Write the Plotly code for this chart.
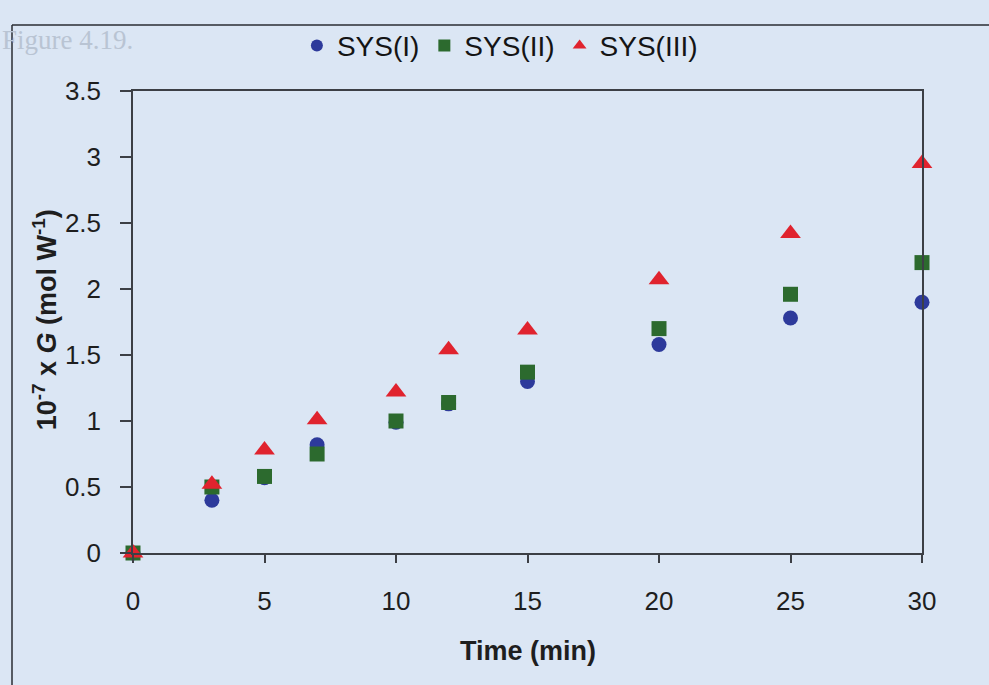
import plotly.graph_objects as go

# Irradiation time (min)
time_min = [0, 3, 5, 7, 10, 12, 15, 20, 25, 30]

# 10^-7 x G (mol W^-1) for each system
sys_i = [0.0, 0.40, 0.57, 0.82, 0.99, 1.13, 1.30, 1.58, 1.78, 1.90]
sys_ii = [0.0, 0.50, 0.58, 0.75, 1.00, 1.14, 1.37, 1.70, 1.96, 2.20]
sys_iii = [0.0, 0.52, 0.78, 1.01, 1.22, 1.54, 1.69, 2.07, 2.42, 2.95]

series_names = ["SYS(I)", "SYS(II)", "SYS(III)"]
x_ticks = [0, 5, 10, 15, 20, 25, 30]
y_ticks = [0, 0.5, 1, 1.5, 2, 2.5, 3, 3.5]

bg = "#dbe6f4"
axis_col = "#3c3f45"
font = "Liberation Sans, Arial, sans-serif"

fig = go.Figure()
fig.add_trace(go.Scatter(x=time_min, y=sys_i, mode="markers", name=series_names[0],
                         cliponaxis=False,
                         marker=dict(symbol="circle", size=15, color="#2d3a9b")))
fig.add_trace(go.Scatter(x=time_min, y=sys_ii, mode="markers", name=series_names[1],
                         cliponaxis=False,
                         marker=dict(symbol="square", size=15, color="#2c6a2e")))
fig.add_trace(go.Scatter(x=time_min, y=sys_iii, mode="markers", name=series_names[2],
                         cliponaxis=False,
                         marker=dict(symbol="triangle-up", size=18, color="#e0232e")))

fig.update_layout(
    width=989, height=685,
    margin=dict(l=133, r=67, t=91, b=132),
    paper_bgcolor=bg, plot_bgcolor=bg,
    font=dict(family=font, size=26, color="#1e1e1e"),
    showlegend=True,
    legend=dict(orientation="h", x=0.465, xanchor="center", y=1.098, yanchor="middle",
                bgcolor="rgba(0,0,0,0)", font=dict(size=28, color="#141414"),
                itemsizing="constant", traceorder="normal", itemwidth=30),
)

fig.update_xaxes(
    range=[0, 30], tickvals=x_ticks, ticktext=[str(v) for v in x_ticks],
    showgrid=False, zeroline=False, showline=True, linecolor=axis_col, linewidth=1.5,
    mirror=True, ticks="outside", ticklen=8, tickwidth=1.5, tickcolor=axis_col,
    ticklabelstandoff=16, tickfont=dict(size=26),
)
fig.update_yaxes(
    range=[0, 3.5], tickvals=y_ticks, ticktext=[f"{v:g}" for v in y_ticks],
    showgrid=False, zeroline=False, showline=True, linecolor=axis_col, linewidth=1.5,
    mirror=True, ticks="outside", ticklen=11, tickwidth=1.5, tickcolor=axis_col,
    ticklabelstandoff=14, tickfont=dict(size=26),
)

# axis titles
fig.add_annotation(xref="paper", yref="paper", x=0.5, y=-0.212, yanchor="middle",
                   text="<b>Time (min)</b>", showarrow=False, font=dict(size=27))
fig.add_annotation(xref="paper", yref="paper", x=-0.112, y=0.505, textangle=-90,
                   xanchor="center", yanchor="middle",
                   text="<b>10<sup>-7</sup> x <i>G</i> (mol W<sup>-1</sup>)</b>",
                   showarrow=False, font=dict(size=27))

# outer chart frame (left and top edges)
fx = (12 - 133) / 789
fy = (553 - 25) / 462
fig.add_shape(type="line", xref="paper", yref="paper", x0=fx, x1=fx, y0=fy, y1=-0.4,
              line=dict(color="#2a2d33", width=1.5))
fig.add_shape(type="line", xref="paper", yref="paper", x0=fx, x1=1.2, y0=fy, y1=fy,
              line=dict(color="#2a2d33", width=1.5))

# page caption behind the chart
fig.add_annotation(xref="paper", yref="paper", x=(0 - 133) / 789, y=(553 - 40) / 462,
                   xanchor="left", yanchor="middle", showarrow=False,
                   text="Figure 4.19.",
                   font=dict(family="Liberation Serif, Times New Roman, serif", size=27, color="#b9c4d3"))

fig.write_html("out.html")
